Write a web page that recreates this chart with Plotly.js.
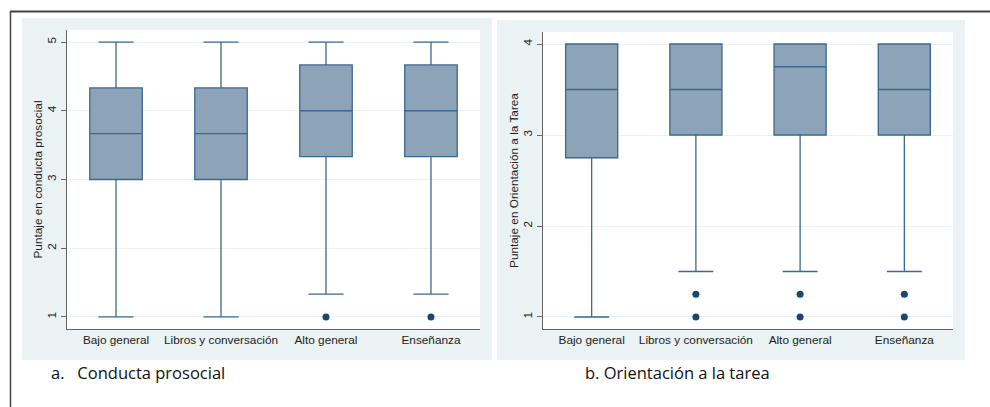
<!DOCTYPE html>
<html>
<head>
<meta charset="utf-8">
<script src="https://cdn.plot.ly/plotly-3.0.1.min.js"></script>
<style>html,body{margin:0;padding:0;background:#fff;}#chart{width:990px;height:407px;}</style>
</head>
<body>
<div id="chart"></div>
<script>
// Categories
const categories = ["Bajo general", "Libros y conversación", "Alto general", "Enseñanza"];

// Panel a: Conducta prosocial
const prosLower  = [1, 1, 1.333, 1.333];
const prosQ1     = [3, 3, 3.333, 3.333];
const prosMedian = [3.667, 3.667, 4, 4];
const prosQ3     = [4.333, 4.333, 4.667, 4.667];
const prosUpper  = [5, 5, 5, 5];
const prosOutCat = ["Alto general", "Enseñanza"];
const prosOutVal = [1, 1];

// Panel b: Orientación a la tarea
const tareaLower  = [1, 1.5, 1.5, 1.5];
const tareaQ1     = [2.75, 3, 3, 3];
const tareaMedian = [3.5, 3.5, 3.75, 3.5];
const tareaQ3     = [4, 4, 4, 4];
const tareaUpper  = [4, 4, 4, 4];
const tareaOutCat = ["Libros y conversación", "Libros y conversación", "Alto general", "Alto general", "Enseñanza", "Enseñanza"];
const tareaOutVal = [1.25, 1, 1.25, 1, 1.25, 1];

const yTicksA = [1, 2, 3, 4, 5];
const yTicksB = [1, 2, 3, 4];

const W = 990, H = 407;
const px = v => v / W;
const py = v => 1 - v / H;

const boxFill = "#8DA3B7";
const boxLine = "#3B6890";
const dotColor = "#1A476F";

function boxTrace(q1, med, q3, lo, hi, xa, ya) {
  return {
    type: "box", x: categories, q1: q1, median: med, q3: q3,
    lowerfence: lo, upperfence: hi,
    xaxis: xa, yaxis: ya,
    fillcolor: boxFill, line: {color: boxLine, width: 1.3},
    width: 0.5, whiskerwidth: 0.67, boxpoints: false, hoverinfo: "skip",
    showlegend: false
  };
}
function dotTrace(cat, val, xa, ya) {
  return {
    type: "scatter", mode: "markers", x: cat, y: val, xaxis: xa, yaxis: ya,
    marker: {color: dotColor, size: 7}, showlegend: false, hoverinfo: "skip"
  };
}

const data = [
  boxTrace(prosQ1, prosMedian, prosQ3, prosLower, prosUpper, "x", "y"),
  dotTrace(prosOutCat, prosOutVal, "x", "y"),
  boxTrace(tareaQ1, tareaMedian, tareaQ3, tareaLower, tareaUpper, "x2", "y2"),
  dotTrace(tareaOutCat, tareaOutVal, "x2", "y2")
];

const tickFont = {family: "Liberation Sans, Arial, sans-serif", size: 11.8, color: "#222"};

function xAxis(d) {
  return {
    domain: d, type: "category", categoryorder: "array", categoryarray: categories,
    range: [-0.467, 3.467], showgrid: false, zeroline: false,
    showline: true, linecolor: "#666", linewidth: 1.2,
    ticks: "", tickfont: tickFont, fixedrange: true
  };
}
function yAxis(d, r, tv, title, anchor) {
  return {
    domain: d, range: r, tickvals: tv, ticktext: tv.map(String),
    showgrid: true, gridcolor: "#EAF2F3", gridwidth: 1, zeroline: false,
    showline: true, linecolor: "#666", linewidth: 1.2,
    ticks: "outside", ticklen: 5, tickcolor: "#666", tickangle: -90,
    tickfont: tickFont, anchor: anchor,
    title: {text: title, font: tickFont, standoff: 0}, fixedrange: true
  };
}

const layout = {
  width: W, height: H,
  margin: {l: 0, r: 0, t: 0, b: 0},
  paper_bgcolor: "#ffffff", plot_bgcolor: "rgba(0,0,0,0)",
  showlegend: false,
  xaxis: Object.assign(xAxis([px(67), px(480)]), {anchor: "y"}),
  yaxis: yAxis([py(329), py(30)], [0.825, 5.175], yTicksA, "Puntaje en conducta prosocial", "x"),
  xaxis2: Object.assign(xAxis([px(543), px(953)]), {anchor: "y2"}),
  yaxis2: yAxis([py(329), py(32)], [0.868, 4.132], yTicksB, "Puntaje en Orientación a la Tarea", "x2"),
  shapes: [
    {type: "rect", xref: "paper", yref: "paper", x0: px(22), x1: px(492), y0: py(360), y1: py(18), fillcolor: "#EAF2F3", line: {width: 0}, layer: "below"},
    {type: "rect", xref: "paper", yref: "paper", x0: px(497), x1: px(965), y0: py(360), y1: py(20), fillcolor: "#EAF2F3", line: {width: 0}, layer: "below"},
    {type: "rect", xref: "paper", yref: "paper", x0: px(67), x1: px(480), y0: py(329), y1: py(30), fillcolor: "#ffffff", line: {width: 0}, layer: "below"},
    {type: "rect", xref: "paper", yref: "paper", x0: px(543), x1: px(953), y0: py(329), y1: py(32), fillcolor: "#ffffff", line: {width: 0}, layer: "below"},
    {type: "line", xref: "paper", yref: "paper", x0: px(10), x1: px(992), y0: py(11.5), y1: py(11.5), line: {color: "#444", width: 2}},
    {type: "line", xref: "paper", yref: "paper", x0: px(10.5), x1: px(10.5), y0: py(11), y1: py(410), line: {color: "#444", width: 1.5}}
  ],
  annotations: [
    {xref: "paper", yref: "paper", x: px(49), y: py(372), xanchor: "left", yanchor: "middle", showarrow: false,
     text: "a.   Conducta prosocial", font: {family: "Open Sans, Noto Sans, sans-serif", size: 16.5, color: "#111"}},
    {xref: "paper", yref: "paper", x: px(583), y: py(372), xanchor: "left", yanchor: "middle", showarrow: false,
     text: "b. Orientación a la tarea", font: {family: "Open Sans, Noto Sans, sans-serif", size: 16.5, color: "#111"}}
  ]
};

Plotly.newPlot("chart", data, layout, {displayModeBar: false, staticPlot: true});
</script>
</body>
</html>
